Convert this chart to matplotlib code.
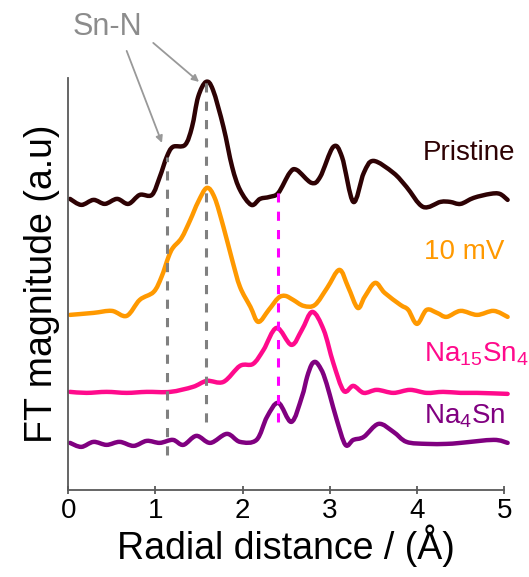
import numpy as np
import matplotlib
matplotlib.use('Agg')
import matplotlib.pyplot as plt
from matplotlib.path import Path
from matplotlib.patches import PathPatch

plt.rcParams['font.family'] = ['Liberation Sans', 'DejaVu Sans']
plt.rcParams['mathtext.fontset'] = 'custom'
plt.rcParams['mathtext.rm'] = 'Liberation Sans'
plt.rcParams['mathtext.default'] = 'regular'

# FT magnitude curves (offset, arbitrary units)
r_pristine = [0.02, 0.15, 0.29, 0.42, 0.56, 0.69, 0.82, 0.96, 1.05, 1.13, 1.20, 1.34, 1.42, 1.49,
              1.58, 1.66, 1.78, 1.88, 1.97, 2.10, 2.20, 2.31, 2.41, 2.54, 2.62, 2.79, 2.89, 3.04,
              3.14, 3.27, 3.39, 3.50, 3.73, 3.88, 4.07, 4.27, 4.38, 4.50, 4.65, 4.84, 4.95, 5.04]
ft_pristine = [2.91, 2.85, 2.90, 2.86, 2.91, 2.86, 2.95, 2.95, 3.13, 3.33, 3.43, 3.45, 3.63, 3.93,
               4.08, 4.00, 3.63, 3.23, 3.00, 2.85, 2.91, 2.93, 2.97, 3.17, 3.20, 3.07, 3.13, 3.43,
               3.33, 2.88, 3.17, 3.29, 3.17, 3.03, 2.83, 2.88, 2.88, 2.86, 2.92, 2.96, 2.96, 2.90]

r_10mv = [0.02, 0.29, 0.50, 0.67, 0.82, 0.98, 1.07, 1.15, 1.20, 1.30, 1.40, 1.49, 1.59, 1.68,
          1.78, 1.88, 1.97, 2.09, 2.18, 2.30, 2.41, 2.49, 2.58, 2.70, 2.83, 2.97, 3.11, 3.21,
          3.32, 3.40, 3.52, 3.63, 3.81, 3.90, 4.00, 4.11, 4.23, 4.34, 4.50, 4.69, 4.88, 5.04]
ft_10mv = [1.75, 1.77, 1.79, 1.74, 1.90, 1.98, 2.13, 2.33, 2.42, 2.52, 2.70, 2.88, 3.02, 2.92,
           2.63, 2.30, 2.03, 1.83, 1.68, 1.80, 1.92, 1.94, 1.90, 1.84, 1.85, 2.02, 2.20, 2.03,
           1.82, 1.93, 2.07, 1.97, 1.85, 1.80, 1.66, 1.80, 1.77, 1.73, 1.79, 1.75, 1.79, 1.73]

r_na15sn4 = [0.02, 0.21, 0.44, 0.67, 0.90, 1.17, 1.43, 1.59, 1.78, 1.97, 2.12, 2.24, 2.39, 2.56,
             2.68, 2.80, 2.93, 3.04, 3.16, 3.27, 3.39, 3.54, 3.73, 3.92, 4.11, 4.30, 4.50, 4.69, 5.04]
ft_na15sn4 = [0.98, 0.97, 0.98, 0.97, 0.98, 0.98, 1.03, 1.09, 1.08, 1.24, 1.26, 1.40, 1.62, 1.45,
              1.60, 1.78, 1.60, 1.27, 0.99, 1.04, 0.97, 1.00, 0.97, 1.00, 0.97, 0.98, 0.97, 0.97, 0.96]

r_na4sn = [0.02, 0.15, 0.29, 0.44, 0.59, 0.75, 0.90, 1.05, 1.20, 1.32, 1.47, 1.63, 1.82, 1.97,
           2.16, 2.28, 2.41, 2.56, 2.68, 2.74, 2.79, 2.83, 2.87, 2.93, 3.00, 3.08, 3.18, 3.27,
           3.39, 3.56, 3.73, 3.88, 4.11, 4.34, 4.50, 4.88, 5.04]
ft_na4sn = [0.47, 0.43, 0.48, 0.45, 0.48, 0.44, 0.49, 0.47, 0.50, 0.45, 0.54, 0.47, 0.56, 0.48,
            0.50, 0.73, 0.87, 0.68, 0.93, 1.13, 1.25, 1.28, 1.25, 1.15, 0.95, 0.70, 0.45, 0.50,
            0.53, 0.66, 0.58, 0.48, 0.46, 0.46, 0.47, 0.50, 0.47]

labels = ['Pristine', '10 mV', r'Na$_{15}$Sn$_4$', r'Na$_4$Sn']
colors = ['#2e0204', '#FF9900', '#FF0A8C', '#800080']
label_pos = [(4.60, 3.37), (4.54, 2.38), (4.68, 1.36), (4.55, 0.74)]

# reference lines: (x, y_low, y_high)
snn_lines = [(1.136, 0.35, 3.33), (1.577, 0.68, 4.08)]
na_line = (2.41, 0.68, 3.05)


def smooth_path(x, y):
    # Catmull-Rom curve through the points, drawn as cubic Bezier segments
    p = np.column_stack([x, y])
    p = np.vstack([p[0], p, p[-1]])
    verts = [p[1]]
    codes = [Path.MOVETO]
    for i in range(1, len(p) - 2):
        c1 = p[i] + (p[i + 1] - p[i - 1]) / 6
        c2 = p[i + 1] - (p[i + 2] - p[i]) / 6
        verts += [c1, c2, p[i + 1]]
        codes += [Path.CURVE4] * 3
    return Path(verts, codes)


fig = plt.figure(figsize=(5.29, 5.77), dpi=100)
ax = fig.add_axes([0.129, 0.151, 0.824, 0.714])

series = [(r_pristine, ft_pristine), (r_10mv, ft_10mv), (r_na15sn4, ft_na15sn4), (r_na4sn, ft_na4sn)]
for (r, ft), c, lab, (lx, ly) in zip(series, colors, labels, label_pos):
    ax.add_patch(PathPatch(smooth_path(r, ft), fill=False, edgecolor=c, lw=3.2,
                           joinstyle='round', capstyle='round', clip_on=False, zorder=2))
    ax.text(lx, ly, lab, color=c, fontsize=20, ha='center', va='center')

for x, y0, y1 in snn_lines:
    ax.plot([x, x], [y0, y1], color='#808080', lw=2.2, dashes=(3, 3), zorder=3)
ax.plot([na_line[0]] * 2, na_line[1:], color='#FF00FF', lw=2.2, dashes=(3, 3), zorder=3)

# Sn-N annotation
arrow = dict(arrowstyle='-|>', color='#999999', lw=1.3, mutation_scale=10, shrinkA=0, shrinkB=0)
ax.annotate('', xy=(1.075, 3.47), xytext=(0.67, 4.39), arrowprops=arrow, annotation_clip=False)
ax.annotate('', xy=(1.50, 4.08), xytext=(0.975, 4.47), arrowprops=arrow, annotation_clip=False)
ax.text(0.45, 4.625, 'Sn-N', color='#8c8c8c', fontsize=22, ha='center', va='center', clip_on=False)

ax.set_xlim(0, 5)
ax.set_ylim(0, 4.12)
ax.spines['top'].set_visible(False)
ax.spines['right'].set_visible(False)
for s in ['left', 'bottom']:
    ax.spines[s].set_color('#595959')
    ax.spines[s].set_linewidth(1.3)
ax.set_yticks([])
ax.set_xticks([0, 1, 2, 3, 4, 5])
ax.tick_params(axis='x', direction='inout', length=6, width=1.3, color='#595959',
               labelsize=20, pad=3)
ax.set_xlabel('Radial distance / (Å)', fontsize=27, labelpad=0)
ax.set_ylabel('FT magnitude (a.u)', fontsize=27, labelpad=6)

fig.savefig('out.png', dpi=100)
